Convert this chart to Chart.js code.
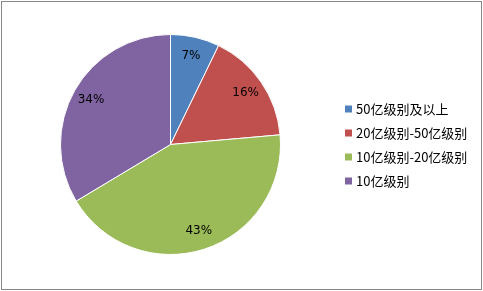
<!DOCTYPE html>
<html>
<head>
<meta charset="utf-8">
<script src="https://cdn.jsdelivr.net/npm/chart.js@4"></script>
<style>
  body { margin: 0; background: #fff; }
  #wrap { position: relative; width: 483px; height: 291px; }
  #frame { position: absolute; left: 1px; top: 1px; width: 479px; height: 287px; border: 1px solid #878787; pointer-events: none; }
  canvas { position: absolute; left: 0; top: 0; }
</style>
</head>
<body>
<div id="wrap">
  <canvas id="pie" width="483" height="291"></canvas>
  <div id="frame"></div>
</div>
<script>
const categories = ['50亿级别及以上', '20亿级别-50亿级别', '10亿级别-20亿级别', '10亿级别'];
const shares = [7.2, 16.4, 42.8, 33.6];
const shareLabels = ['7%', '16%', '43%', '34%'];
const sliceColors = ['#4F81BD', '#C0504D', '#9BBB59', '#8064A2'];

const labelFont = '12px "DejaVu Sans", "Noto Sans CJK SC", sans-serif';

// percentage text inside each slice
const sliceLabels = {
    id: 'sliceLabels',
    afterDatasetsDraw(chart) {
        const ctx = chart.ctx;
        const arcs = chart.getDatasetMeta(0).data;
        ctx.save();
        ctx.font = labelFont;
        ctx.fillStyle = '#000';
        ctx.textAlign = 'center';
        ctx.textBaseline = 'middle';
        arcs.forEach(function (arc, i) {
            const mid = (arc.startAngle + arc.endAngle) / 2;
            const r = arc.outerRadius * 0.83;
            ctx.fillText(shareLabels[i], arc.x + Math.cos(mid) * r, arc.y + Math.sin(mid) * r);
        });
        ctx.restore();
    }
};

// legend on the right, drawn from the chart's own labels and colours
const sideLegend = {
    id: 'sideLegend',
    afterDraw(chart) {
        const ctx = chart.ctx;
        const ds = chart.data.datasets[0];
        ctx.save();
        ctx.font = '13px "Noto Sans CJK SC", "DejaVu Sans", sans-serif';
        ctx.textBaseline = 'middle';
        chart.data.labels.forEach(function (label, i) {
            const y = 109 + i * 24;
            ctx.fillStyle = ds.backgroundColor[i];
            ctx.fillRect(345, y - 3.5, 7, 7);
            ctx.fillStyle = '#000';
            ctx.fillText(label, 356, y);
        });
        ctx.restore();
    }
};

new Chart(document.getElementById('pie').getContext('2d'), {
    type: 'pie',
    data: {
        labels: categories,
        datasets: [{
            data: shares,
            backgroundColor: sliceColors,
            borderColor: '#ffffff',
            borderWidth: 1
        }]
    },
    options: {
        responsive: false,
        animation: false,
        layout: {
            padding: { left: 60, top: 34, bottom: 36, right: 202 }
        },
        plugins: {
            legend: { display: false },
            tooltip: { enabled: false }
        }
    },
    plugins: [sliceLabels, sideLegend]
});
</script>
</body>
</html>
